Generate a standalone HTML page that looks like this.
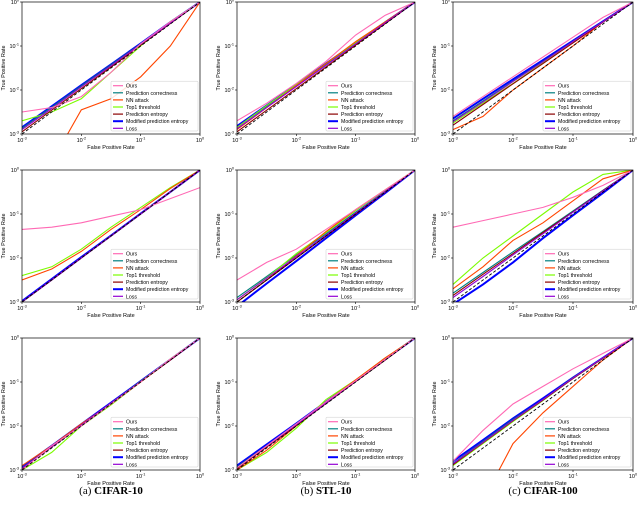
<!DOCTYPE html>
<html><head><meta charset="utf-8"><style>
html,body{margin:0;padding:0;background:#fff;width:640px;height:507px;overflow:hidden;font-family:"Liberation Sans",sans-serif}
svg{display:block}
</style></head><body>
<svg id="c" width="640" height="507"></svg>
<script>
// shared FPR grid, log10 exponents
const fprGrid = [-3,-2.5,-2,-1.5,-1,-0.5,0];
const seriesNames = ["Ours","Prediction correctness","NN attack","Top1 threshold","Prediction entropy","Modified prediction entropy","Loss"];
const seriesColors = ["#ff69b4","#008080","#ff4500","#7cfc00","#8b0000","#0000ff","#9400d3"];
const diag = [-3,-2.5,-2,-1.5,-1,-0.5,0];
// log10 TPR values per panel: [ours, correctness, nn, top1, entropy, modEntropy, loss]
const a1 = [[-2.5,-2.4,-2.15,-1.6,-0.95,-0.45,0],[-2.87,-2.39,-1.91,-1.43,-0.95,-0.47,0],[null,null,-2.45,-2.2,-1.7,-1.0,0],[-2.7,-2.5,-2.2,-1.6,-1.0,-0.45,0],[-2.95,-2.46,-1.97,-1.48,-0.98,-0.49,0],[-2.85,-2.37,-1.89,-1.42,-0.94,-0.46,0],[-2.9,-2.42,-1.93,-1.45,-0.96,-0.48,0]];
const b1 = [[-2.7,-2.3,-1.85,-1.35,-0.75,-0.3,0],[-2.85,-2.37,-1.89,-1.41,-0.93,-0.46,0],[-2.9,-2.4,-1.9,-1.4,-0.9,-0.45,0],[-2.85,-2.35,-1.88,-1.4,-0.92,-0.45,0],[-2.95,-2.46,-1.97,-1.48,-0.98,-0.49,0],[-2.82,-2.35,-1.88,-1.4,-0.93,-0.46,0],[-2.88,-2.4,-1.92,-1.44,-0.95,-0.47,0]];
const c1 = [[-2.6,-2.15,-1.7,-1.25,-0.8,-0.35,0],[-2.7,-2.25,-1.8,-1.35,-0.9,-0.45,0],[-2.9,-2.6,-2.0,-1.5,-1.0,-0.45,0],[-2.75,-2.3,-1.85,-1.38,-0.9,-0.45,0],[-2.8,-2.33,-1.86,-1.4,-0.93,-0.46,0],[-2.65,-2.2,-1.76,-1.32,-0.88,-0.44,0],[-2.72,-2.27,-1.81,-1.36,-0.9,-0.45,0]];
const a2 = [[-1.35,-1.3,-1.2,-1.05,-0.9,-0.65,-0.4],[-3,-2.5,-2,-1.5,-1,-0.5,0],[-2.5,-2.25,-1.85,-1.35,-0.9,-0.42,0],[-2.4,-2.2,-1.8,-1.3,-0.85,-0.4,0],[-3,-2.5,-2,-1.5,-1,-0.5,0],[-2.98,-2.48,-1.98,-1.49,-0.99,-0.5,0],[-3,-2.5,-2,-1.5,-1,-0.5,0]];
const b2 = [[-2.5,-2.1,-1.8,-1.35,-0.9,-0.45,0],[-2.9,-2.42,-1.93,-1.45,-0.96,-0.48,0],[-3,-2.5,-1.95,-1.4,-0.9,-0.45,0],[-2.95,-2.45,-1.9,-1.42,-0.92,-0.45,0],[-3,-2.5,-2,-1.5,-1,-0.5,0],[-3.1,-2.58,-2.07,-1.55,-1.03,-0.52,0],[-2.95,-2.46,-1.97,-1.48,-0.98,-0.49,0]];
const c2 = [[-1.3,-1.15,-1.0,-0.85,-0.62,-0.35,0],[-2.8,-2.33,-1.86,-1.4,-0.93,-0.46,0],[-2.7,-2.2,-1.6,-1.2,-0.7,-0.2,0],[-2.6,-2.0,-1.5,-1.0,-0.5,-0.1,0],[-2.85,-2.37,-1.9,-1.42,-0.95,-0.47,0],[-3.05,-2.6,-2.1,-1.55,-1.03,-0.52,0],[-2.9,-2.42,-1.93,-1.45,-0.96,-0.48,0]];
const a3 = [[-3,-2.45,-2.0,-1.5,-1.0,-0.48,0],[-2.95,-2.47,-1.98,-1.48,-0.98,-0.49,0],[-2.9,-2.45,-1.95,-1.5,-1.0,-0.5,0],[-3.0,-2.6,-2.0,-1.52,-1.0,-0.48,0],[-2.97,-2.48,-1.99,-1.49,-0.99,-0.5,0],[-2.93,-2.45,-1.96,-1.47,-0.98,-0.49,0],[-2.96,-2.47,-1.98,-1.48,-0.99,-0.49,0]];
const b3 = [[-2.95,-2.45,-1.95,-1.45,-0.97,-0.48,0],[-2.93,-2.45,-1.96,-1.47,-0.98,-0.49,0],[-3,-2.55,-2.0,-1.45,-0.95,-0.45,0],[-3.0,-2.6,-2.05,-1.4,-0.95,-0.45,0],[-2.97,-2.48,-1.99,-1.49,-0.99,-0.5,0],[-2.9,-2.42,-1.94,-1.45,-0.97,-0.48,0],[-2.95,-2.46,-1.97,-1.48,-0.98,-0.49,0]];
const c3 = [[-2.8,-2.1,-1.5,-1.1,-0.7,-0.35,0],[-2.85,-2.35,-1.85,-1.4,-0.9,-0.45,0],[null,null,-2.4,-1.7,-1.1,-0.5,0],[-2.9,-2.4,-1.9,-1.42,-0.92,-0.46,0],[-2.88,-2.38,-1.88,-1.41,-0.92,-0.46,0],[-2.8,-2.32,-1.83,-1.37,-0.9,-0.45,0],[-2.86,-2.37,-1.87,-1.4,-0.91,-0.45,0]];
const panels = [[a1,b1,c1],[a2,b2,c2],[a3,b3,c3]];
const xTickExp = [-3,-2,-1,0];
const yTickExp = [-3,-2,-1,0];
const captions = [["(a)","CIFAR-10"],["(b)","STL-10"],["(c)","CIFAR-100"]];

const NS="http://www.w3.org/2000/svg";
const svg=document.getElementById('c');
function mk(t,a,p){const e=document.createElementNS(NS,t);for(const k in a)e.setAttribute(k,a[k]);(p||svg).appendChild(e);return e;}
const colL=[22,237,453], colW=[178,178,180], rowT=[2,170,338], H=132;
function sup(g,x,y,exp,anchor){const t=mk('text',{x:x,y:y,'font-size':5.5,'text-anchor':anchor,fill:'#000'},g);t.textContent='10';const s=mk('tspan',{dy:-2.5,'font-size':3.8},t);s.textContent=String(exp);return t;}
for(let r=0;r<3;r++)for(let c=0;c<3;c++){
  const L=colL[c],T=rowT[r],W=colW[c];
  const xs=e=>L+(e+3)/3*W, ys=e=>T+H-(e+3)/3*H;
  const g=mk('g',{});
  
  
  const cp=mk('clipPath',{id:'cp'+r+c},g);mk('rect',{x:L,y:T,width:W,height:H},cp);
  const pg=mk('g',{'clip-path':'url(#cp'+r+c+')'},g);
  const data=panels[r][c];
  for(const si of [5,1,3,2,4,6,0]){
    const pts=[];data[si].forEach((v,i)=>{if(v!==null)pts.push(xs(fprGrid[i]).toFixed(1)+','+ys(v).toFixed(1));});
    if(data[si][0]===null){const fi=data[si].findIndex(v=>v!==null);pts.unshift(xs(fprGrid[fi]-0.25).toFixed(1)+','+(T+H+2));}
    const pl=mk('polyline',{points:pts.join(' '),fill:'none',stroke:seriesColors[si],'stroke-width':si===5?2:1.1},pg);
    
    
  }
  const dp=mk('polyline',{points:diag.map((v,i)=>xs(fprGrid[i])+','+ys(v)).join(' '),fill:'none',stroke:'#000','stroke-width':0.9,'stroke-dasharray':'3,2'},pg);
  
  
  mk('rect',{x:L,y:T,width:W,height:H,fill:'none',stroke:'#000','stroke-width':0.7},g);
  xTickExp.forEach(e=>{mk('line',{x1:xs(e),x2:xs(e),y1:T+H,y2:T+H+2,stroke:'#000','stroke-width':0.6},g);sup(g,xs(e),T+H+8,e,'middle');});
  yTickExp.forEach(e=>{mk('line',{x1:L-2,x2:L,y1:ys(e),y2:ys(e),stroke:'#000','stroke-width':0.6},g);sup(g,L-3,ys(e)+2,e,'end');});
  const xl=mk('text',{x:L+W/2,y:T+H+15,'font-size':5.5,'text-anchor':'middle'},g);xl.textContent='False Positive Rate';
  
  const yl=mk('text',{x:0,y:0,'font-size':5.5,'text-anchor':'middle',transform:'translate('+(L-17)+','+(T+H/2)+') rotate(-90)'},g);yl.textContent='True Positive Rate';
  
  const lg=mk('g',{},g);
  
  const lx=L+W*0.5,ly=T+H*0.6;
  mk('rect',{x:lx,y:ly,width:W*0.5-2,height:H*0.4-3,fill:'#fff','fill-opacity':0.85,stroke:'#ccc','stroke-width':0.5,rx:1},lg);
  seriesNames.forEach((n,i)=>{const yy=ly+4.5+i*7.1;
    mk('line',{x1:lx+2,x2:lx+12,y1:yy,y2:yy,stroke:seriesColors[i],'stroke-width':i===5?2:1.2},lg);
    const t=mk('text',{x:lx+15,y:yy+2,'font-size':5.2},lg);t.textContent=n;
    });
}
captions.forEach((cp,i)=>{const t=mk('text',{x:colL[i]+colW[i]/2,y:494,'font-size':11,'text-anchor':'middle','font-family':'Liberation Serif, serif'});
  
  t.textContent=cp[0]+' ';const b=mk('tspan',{'font-weight':'bold'},t);b.textContent=cp[1];});
</script>
</body></html>
